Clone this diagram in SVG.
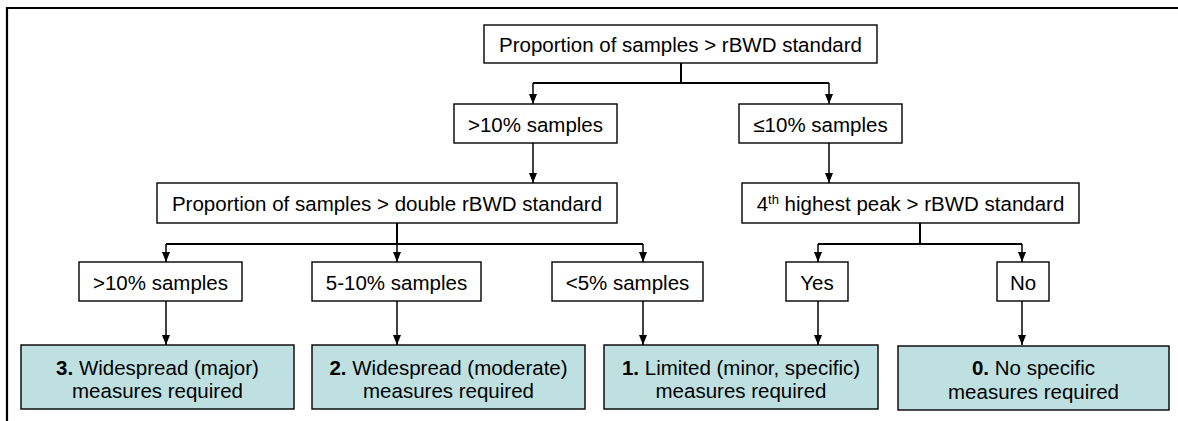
<svg xmlns="http://www.w3.org/2000/svg" width="1178" height="421" viewBox="0 0 1178 421">
<defs>
<marker id="ah" viewBox="0 0 10 8" markerWidth="10" markerHeight="8" refX="10" refY="4" orient="auto" markerUnits="userSpaceOnUse">
<path d="M0,0 L10,4 L0,8 z" fill="#000"/>
</marker>
<style>
.box{fill:#fff;stroke:#000;stroke-width:1.4}
.res{fill:#bee0e1;stroke:#000;stroke-width:1.4}
.t{font-family:"Liberation Sans",Arial,sans-serif;font-size:20.5px;fill:#000;text-anchor:middle}
.b{font-weight:bold}
.stem{fill:none;stroke:#000;stroke-width:2}
.arr{fill:none;stroke:#000;stroke-width:1.5;marker-end:url(#ah)}
</style>
</defs>
<rect width="1178" height="421" fill="#fff"/>
<path d="M7,421 V8 H1178" fill="none" stroke="#000" stroke-width="2.2"/>

<g id="connectors">
<path class="stem" d="M681,63 V83 M533,83 H829"/>
<path class="arr" d="M533,83 V104"/>
<path class="arr" d="M829,83 V104"/>
<path class="arr" d="M533,143 V183"/>
<path class="arr" d="M829,143 V183"/>
<path class="stem" d="M397,223 V244 M166,244 H643"/>
<path class="arr" d="M166,244 V262"/>
<path class="arr" d="M397,244 V262"/>
<path class="arr" d="M643,244 V262"/>
<path class="stem" d="M920,223 V244 M818,244 H1022"/>
<path class="arr" d="M818,244 V262"/>
<path class="arr" d="M1022,244 V262"/>
<path class="arr" d="M166,301 V345"/>
<path class="arr" d="M397,301 V345"/>
<path class="arr" d="M643,301 V345"/>
<path class="arr" d="M818,301 V345"/>
<path class="arr" d="M1022,301 V345"/>
</g>

<g id="n-root">
<rect class="box" x="484" y="25" width="393" height="38"/>
<text class="t" x="680.5" y="52">Proportion of samples &gt; rBWD standard</text>
</g>
<g id="n-gt10">
<rect class="box" x="454" y="104" width="163" height="39"/>
<text class="t" x="535.5" y="131.5">&gt;10% samples</text>
</g>
<g id="n-le10">
<rect class="box" x="739" y="104" width="163" height="39"/>
<text class="t" x="820.5" y="131.5">≤10% samples</text>
</g>
<g id="n-double">
<rect class="box" x="157" y="183" width="460" height="40"/>
<text class="t" x="387" y="211">Proportion of samples &gt; double rBWD standard</text>
</g>
<g id="n-peak">
<rect class="box" x="742" y="183" width="337" height="40"/>
<text class="t" x="910.5" y="211">4<tspan font-size="13" dy="-7">th</tspan><tspan dy="7"> highest peak &gt; rBWD standard</tspan></text>
</g>
<g id="n-s-gt10">
<rect class="box" x="79" y="262" width="163" height="39"/>
<text class="t" x="160.5" y="289.5">&gt;10% samples</text>
</g>
<g id="n-s-5to10">
<rect class="box" x="312" y="262" width="169" height="39"/>
<text class="t" x="396.5" y="289.5">5-10% samples</text>
</g>
<g id="n-s-lt5">
<rect class="box" x="552" y="262" width="151" height="39"/>
<text class="t" x="627.5" y="289.5">&lt;5% samples</text>
</g>
<g id="n-yes">
<rect class="box" x="786" y="262" width="62" height="39"/>
<text class="t" x="817" y="289.5">Yes</text>
</g>
<g id="n-no">
<rect class="box" x="997" y="262" width="52" height="39"/>
<text class="t" x="1023" y="289.5">No</text>
</g>
<g id="r3">
<rect class="res" x="21" y="345" width="273" height="64"/>
<text class="t" x="157.5" y="374.5"><tspan class="b">3.</tspan> Widespread (major)</text>
<text class="t" x="157.5" y="398">measures required</text>
</g>
<g id="r2">
<rect class="res" x="312" y="345" width="273" height="64"/>
<text class="t" x="448.5" y="374.5"><tspan class="b">2.</tspan> Widespread (moderate)</text>
<text class="t" x="448.5" y="398">measures required</text>
</g>
<g id="r1">
<rect class="res" x="604" y="345" width="274" height="64"/>
<text class="t" x="741" y="374.5"><tspan class="b">1.</tspan> Limited (minor, specific)</text>
<text class="t" x="741" y="398">measures required</text>
</g>
<g id="r0">
<rect class="res" x="898" y="346" width="271" height="64"/>
<text class="t" x="1033.5" y="375"><tspan class="b">0.</tspan> No specific</text>
<text class="t" x="1033.5" y="398.5">measures required</text>
</g>
</svg>
